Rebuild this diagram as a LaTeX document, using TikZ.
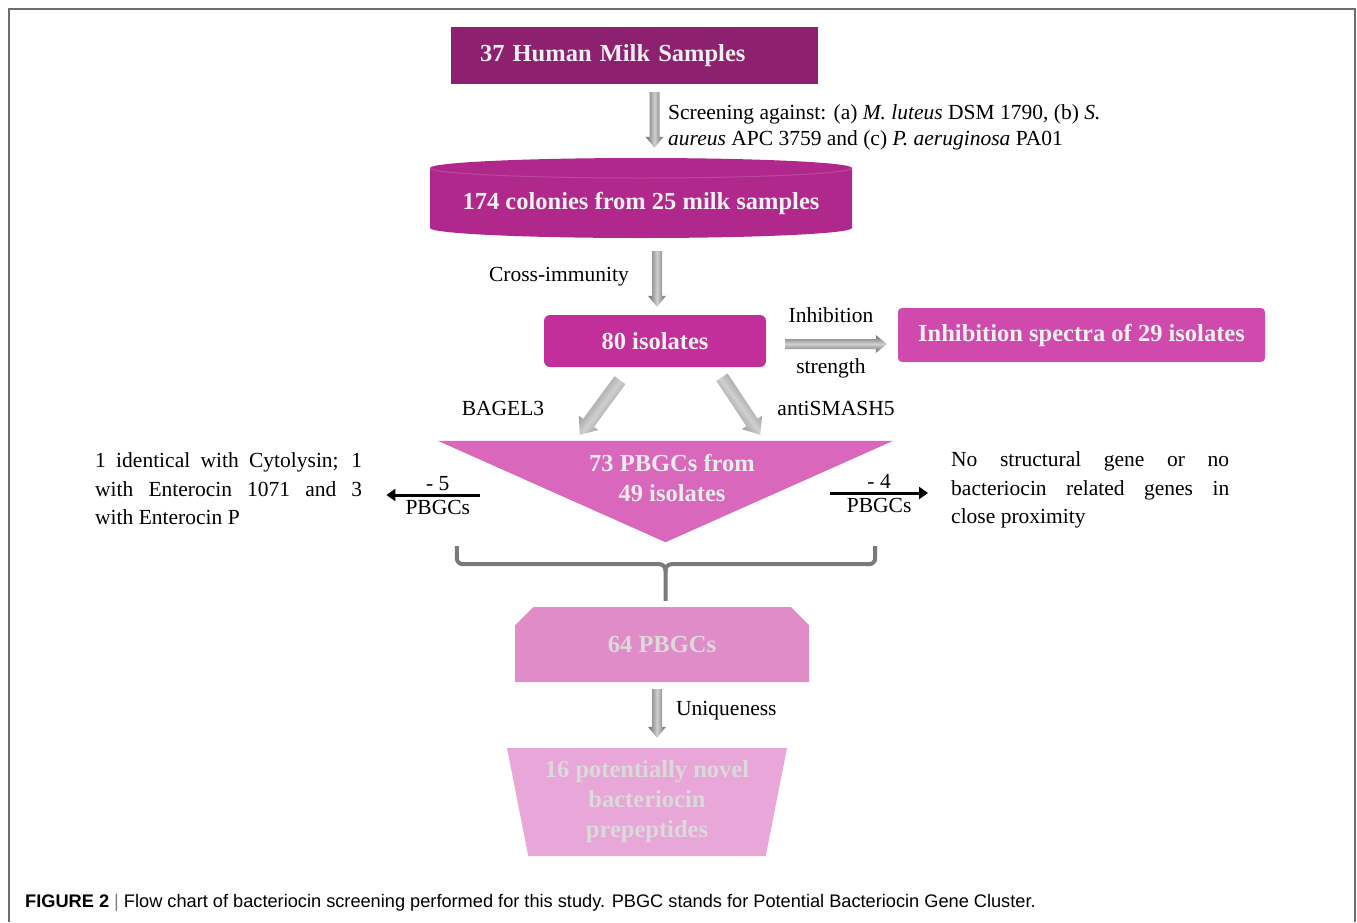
\documentclass[tikz,border=0pt]{standalone}
\usepackage{fontspec}
\setmainfont{Liberation Serif}
\setsansfont{Liberation Sans}
\usetikzlibrary{calc,arrows.meta,shapes.geometric,shapes.misc}

\definecolor{milkfill}{HTML}{8E2070}
\definecolor{colonyfill}{HTML}{B0288C}
\definecolor{isolfill}{HTML}{C22F9B}
\definecolor{spectrafill}{HTML}{D04AAD}
\definecolor{trifill}{HTML}{D967BB}
\definecolor{pbgcfill}{HTML}{E08CC9}
\definecolor{novelfill}{HTML}{E8A7D8}
\definecolor{boxwhite}{HTML}{F0F0F0}
\definecolor{boxgray}{HTML}{DADADA}
\definecolor{framegray}{HTML}{6E6E6E}
\definecolor{bracegray}{HTML}{7A7A7A}
\definecolor{arrowdark}{HTML}{6A6A6A}
\definecolor{arrowlight}{HTML}{CFCFCF}

\tikzset{
  box/.style={inner sep=0pt, text=boxwhite, align=center,
    font=\fontsize{24.5}{30}\selectfont\bfseries},
  lbl/.style={inner sep=0pt, font=\fontsize{21.5}{28.5}\selectfont},
  vshade/.style={left color=arrowdark, right color=arrowdark, middle color=arrowlight},
  hshade/.style={top color=arrowdark, bottom color=arrowdark, middle color=arrowlight},
  minusarrow/.style={line width=3pt, -{Triangle[length=9pt,width=12pt]}},
  brace/.style={line width=4pt, draw=bracegray, rounded corners=6pt},
  frameline/.style={line width=2pt, draw=framegray}
}

%block arrow: [size]{shading}{from}{to}
\newcommand{\blockarrow}[4][1]{%
  \coordinate (ba-s) at #3;
  \coordinate (ba-e) at #4;
  \coordinate (ba-h) at ($(ba-e)!#1*11pt!(ba-s)$);
  \shade[#2] ($(ba-s)!#1*5pt!90:(ba-e)$) -- ($(ba-h)!#1*5pt!90:(ba-e)$)
    -- ($(ba-h)!#1*9pt!90:(ba-e)$) -- (ba-e) -- ($(ba-h)!#1*9pt!-90:(ba-e)$)
    -- ($(ba-h)!#1*5pt!-90:(ba-e)$) -- ($(ba-s)!#1*5pt!-90:(ba-e)$) -- cycle;
}

\begin{document}
\begin{tikzpicture}[x=1pt,y=-1pt]
    \useasboundingbox (0,0) rectangle (1357,922);

    %frame:
    \draw[frameline] (9,922) -- (9,9) -- (1355,9) -- (1355,922);

    %top box:
    \node[box, fill=milkfill, minimum width=367pt, minimum height=57pt,
      text width=309pt, inner xsep=29pt, align=left] (milk) at (634.5,55.5)
      {37 Human Milk Samples};

    %cylinder:
    \fill[colonyfill] (430,168) -- (430,228)
      arc[start angle=180, end angle=0, x radius=211, y radius=10]
      -- (852,168) arc[start angle=0, end angle=-180, x radius=211, y radius=10] -- cycle;
    \draw[colonyfill!85!white, line width=1pt] (430,168)
      arc[start angle=180, end angle=0, x radius=211, y radius=10];
    \node[box, minimum width=422pt, minimum height=70pt] (colonies) at (641,203)
      {174 colonies from 25 milk samples};

    %isolates and spectra:
    \node[box, fill=isolfill, rounded corners=6pt, minimum width=222pt,
      minimum height=52pt] (isol) at (655,341) {80 isolates};
    \node[box, fill=spectrafill, rounded corners=4pt, minimum width=367pt,
      minimum height=54pt] (spectra) at (1081.5,335) {Inhibition spectra of 29 isolates};

    %triangle:
    \node[minimum width=455pt, minimum height=101pt, inner sep=0pt] (tri) at (665.5,491.5) {};
    \fill[trifill] (tri.north west) -- (tri.north east) -- (tri.south) -- cycle;
    \node[box, text=boxwhite!95!gray] (pbgctext) at (672,478) {73 PBGCs from\\49 isolates};

    %lower boxes:
    \node[box, text=boxgray, fill=pbgcfill, chamfered rectangle,
      chamfered rectangle corners={north west,north east},
      chamfered rectangle xsep=10pt, chamfered rectangle ysep=10pt,
      minimum width=294pt, minimum height=75pt] (sixtyfour) at (662,644.5) {64 PBGCs};
    \node[box, text=boxgray, fill=novelfill, trapezium,
      trapezium left angle=104.5, trapezium right angle=104.5,
      trapezium stretches body, minimum width=280pt, minimum height=108pt]
      (novel) at (647,802) {16 potentially novel\\bacteriocin\\prepeptides};

    %side texts:
    \node[lbl, anchor=west, align=left, font=\fontsize{21.5}{26}\selectfont]
      (screen) at (668,127)
      {Screening against: (a) \textit{M. luteus} DSM 1790, (b) \textit{S.}\\
       \textit{aureus} APC 3759 and (c) \textit{P. aeruginosa} PA01};
    \node[lbl, anchor=east] (cross) at (629,277) {Cross-immunity};
    \node[lbl] (inhib) at (831,315) {Inhibition};
    \node[lbl] (strength) at (831,368) {strength};
    \node[lbl] (bagel) at (503,408) {BAGEL3};
    \node[lbl] (antismash) at (836,408) {antiSMASH5};
    \node[lbl, anchor=west, text width=267pt, align=justify] (cytol) at (95,489)
      {1 identical with Cytolysin; 1\linebreak with Enterocin 1071 and 3\linebreak with Enterocin P};
    \node[lbl, anchor=west, text width=278pt, align=justify] (nogene) at (951,490)
      {No structural gene or no\linebreak bacteriocin related genes in\linebreak close proximity};
    \node[lbl, anchor=west] (unique) at (676,711) {Uniqueness};

    %gray arrows:
    \blockarrow{vshade}{([xshift=20pt,yshift=-8pt]milk.south)}
      {([xshift=20pt,yshift=20pt]milk.south |- colonies.north)}
    \blockarrow{vshade}{([xshift=2pt,yshift=-13pt]isol.north |- colonies.south)}
      {([xshift=2pt,yshift=8pt]isol.north)}
    \blockarrow{hshade}{([xshift=19pt,yshift=-3pt]isol.east)}
      {([xshift=-11pt,yshift=-3pt]isol.east -| spectra.west)}
    \blockarrow[1.35]{vshade, shading angle=54}{([xshift=-35pt,yshift=-13pt]isol.south)}
      {([xshift=142pt,yshift=6pt]tri.north west)}
    \blockarrow[1.35]{vshade, shading angle=126}{([xshift=67pt,yshift=-10pt]isol.south)}
      {([xshift=-133pt,yshift=6pt]tri.north east)}
    \blockarrow{vshade}{([xshift=-5pt,yshift=-7pt]sixtyfour.south)}
      {([xshift=10pt,yshift=10pt]novel.north)}

    %black arrows:
    \draw[minusarrow] ([xshift=42pt,yshift=-3.5pt]tri.west)
      -- ([xshift=24pt,yshift=-3.5pt]tri.west -| cytol.east)
      node[lbl, pos=0.45, above=3pt] {- 5} node[lbl, pos=0.45, below=4pt] {PBGCs};
    \draw[minusarrow] ([xshift=-63pt,yshift=-1.5pt]tri.east)
      -- ([xshift=-23pt,yshift=-1.5pt]tri.east -| nogene.west)
      node[lbl, midway, above=3pt] {- 4} node[lbl, midway, below=4pt] {PBGCs};

    %brace:
    \draw[brace] ([xshift=19pt,yshift=-4pt]tri.south west) |- ([yshift=-22pt]tri.south)
      -- ([yshift=6pt]tri.south |- sixtyfour.north);
    \draw[brace] ([xshift=-18pt,yshift=-4pt]tri.south east) |- ([yshift=-22pt]tri.south)
      -- ([yshift=-30pt]tri.south);

    %caption:
    \node[anchor=west, inner sep=0pt, font=\sffamily\fontsize{18.2}{22}\selectfont] (caption)
      at (25,903) {\textbf{FIGURE 2} {\color{gray}|} Flow chart of bacteriocin screening
      performed for this study. PBGC stands for Potential Bacteriocin Gene Cluster.};

\end{tikzpicture}
\end{document}
